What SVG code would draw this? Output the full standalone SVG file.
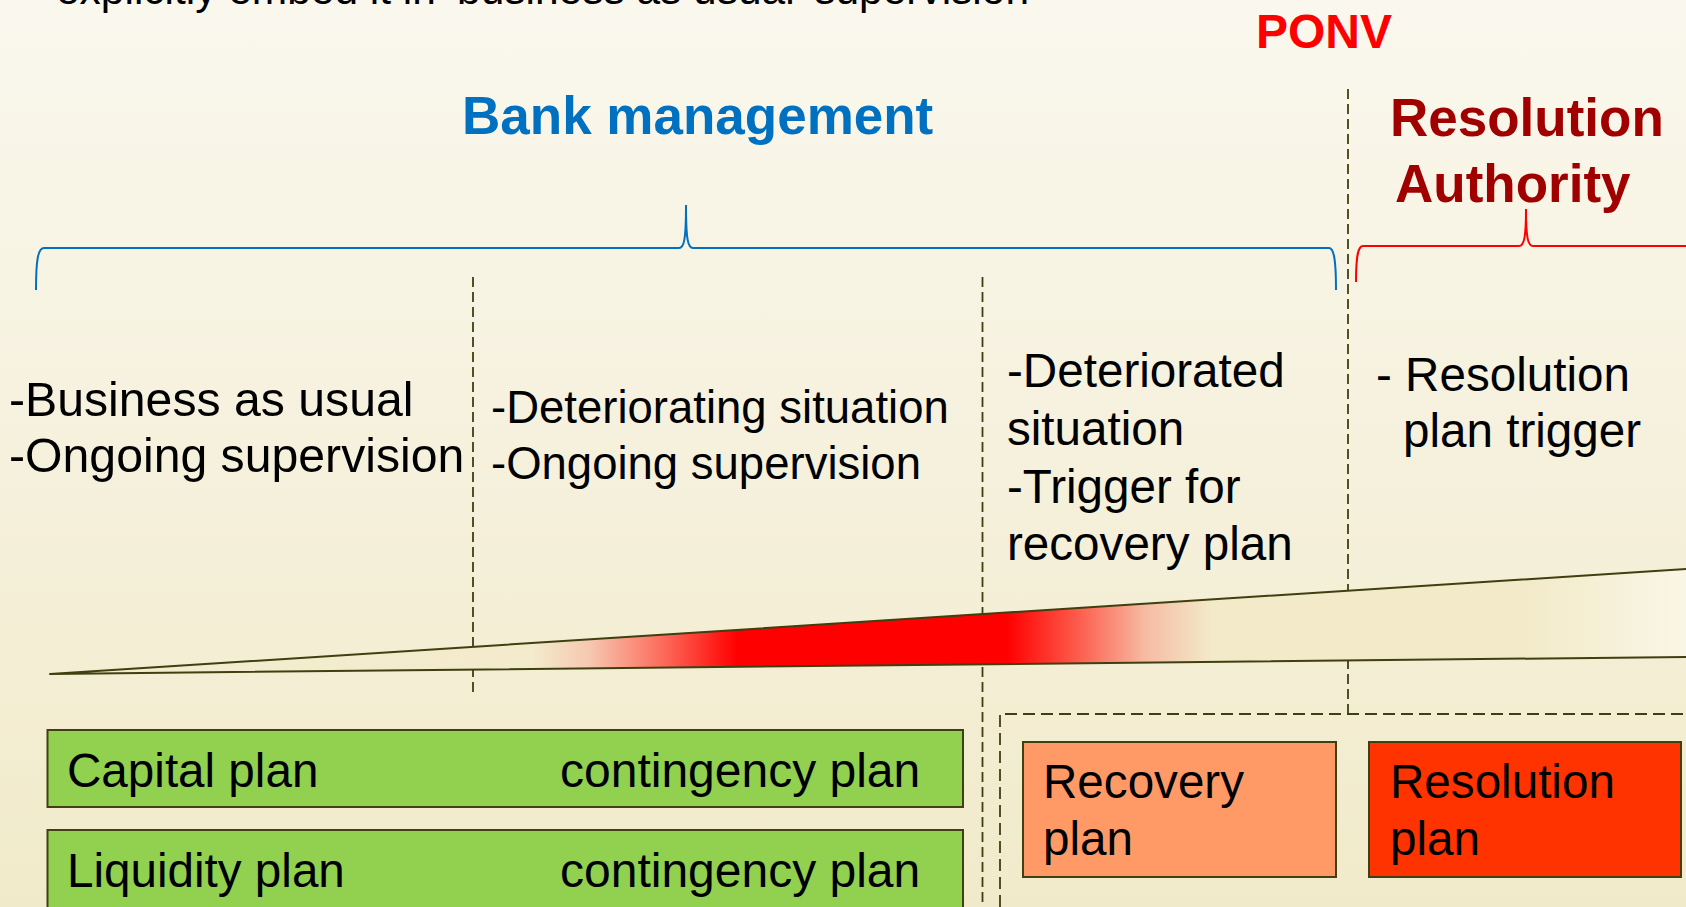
<svg xmlns="http://www.w3.org/2000/svg" width="1686" height="907" viewBox="0 0 1686 907">
<defs>
<linearGradient id="bg" x1="0" y1="0" x2="0" y2="1">
<stop offset="0" stop-color="#FAF8EE"/>
<stop offset="0.5" stop-color="#F6F1DD"/>
<stop offset="1" stop-color="#F1EACA"/>
</linearGradient>
<linearGradient id="wedge" gradientUnits="userSpaceOnUse" x1="50" y1="0" x2="1686" y2="0">
<stop offset="0" stop-color="#F3EDD0"/>
<stop offset="0.295" stop-color="#F3EBCC"/>
<stop offset="0.33" stop-color="#F6C8B0"/>
<stop offset="0.375" stop-color="#FC6A5A"/>
<stop offset="0.42" stop-color="#FF0000"/>
<stop offset="0.585" stop-color="#FF0000"/>
<stop offset="0.63" stop-color="#FC6050"/>
<stop offset="0.67" stop-color="#F6BCA4"/>
<stop offset="0.71" stop-color="#F2EAC8"/>
<stop offset="0.9" stop-color="#F2EAC8"/>
<stop offset="1" stop-color="#FAF6E6"/>
</linearGradient>
</defs>
<style>
.t{font-family:"Liberation Sans",Arial,sans-serif;font-size:47.6px;fill:#000}
.h{font-family:"Liberation Sans",Arial,sans-serif;font-weight:bold}
.dash{fill:none;stroke:#3F3F10;stroke-width:1.8;stroke-dasharray:10 5}
.dash2{fill:none;stroke:#3F3F10;stroke-width:1.8;stroke-dasharray:12 6}
.box{stroke:#404012;stroke-width:2}
</style>
<rect x="0" y="0" width="1686" height="907" fill="url(#bg)"/>

<g id="top-text">
<text class="t" x="56" y="4" style="font-size:42.5px" textLength="973" lengthAdjust="spacingAndGlyphs">explicitly embed it in ‘business as usual’ supervision</text>
</g>

<g id="ponv-label">
<text class="h" x="1256" y="48" font-size="48" fill="#FF0000">PONV</text>
</g>

<g id="bank-management">
<text class="h" x="462" y="134" font-size="53" fill="#0070C0">Bank management</text>
<path d="M36,290 C36,260 38,248 44,248 L679,248 C684,248 686,240 686,205 C686,240 688,248 693,248 L1329,248 C1334,248 1336,260 1336,290" fill="none" stroke="#0070C0" stroke-width="2"/>
</g>

<g id="resolution-authority">
<text class="h" x="1390" y="136" font-size="53" fill="#A00000">Resolution</text>
<text class="h" x="1395" y="202" font-size="53" fill="#A00000">Authority</text>
<path d="M1356,282 C1356,256 1358,246 1363,246 L1519,246 C1524,246 1526,238 1526,209 C1526,238 1528,246 1533,246 L1686,246" fill="none" stroke="#FF0000" stroke-width="2"/>
</g>

<g id="connectors">
<line class="dash" x1="473" y1="277" x2="473" y2="694"/>
<line class="dash" x1="982.5" y1="277" x2="982.5" y2="907"/>
<line class="dash" x1="1348" y1="89" x2="1348" y2="714"/>
<path class="dash2" d="M1000,907 L1000,714 L1690,714"/>
</g>

<g id="wedge-shape">
<polygon points="50,674 1700,568.1 1700,656.8" fill="url(#wedge)" stroke="#3F3F10" stroke-width="2" stroke-linejoin="round"/>
</g>

<g id="col-normal">
<text class="t" x="9" y="416" style="font-size:48.2px">-Business as usual</text>
<text class="t" x="9" y="472" style="font-size:48.2px">-Ongoing supervision</text>
</g>

<g id="col-deteriorating">
<text class="t" x="491" y="423" style="font-size:45.5px">-Deteriorating situation</text>
<text class="t" x="491" y="479" style="font-size:45.5px">-Ongoing supervision</text>
</g>

<g id="col-deteriorated">
<text class="t" x="1007" y="387">-Deteriorated</text>
<text class="t" x="1007" y="445">situation</text>
<text class="t" x="1007" y="503">-Trigger for</text>
<text class="t" x="1007" y="560">recovery plan</text>
</g>

<g id="col-resolution">
<text class="t" x="1376" y="391">- Resolution</text>
<text class="t" x="1403" y="447">plan trigger</text>
</g>

<g id="capital-plan">
<rect class="box" x="47.5" y="730" width="915.5" height="77" fill="#92D050"/>
<text class="t" x="67" y="787">Capital plan</text>
<text class="t" x="560" y="787" style="font-size:48px">contingency plan</text>
</g>

<g id="liquidity-plan">
<rect class="box" x="47.5" y="830" width="915.5" height="90" fill="#92D050"/>
<text class="t" x="67" y="887">Liquidity plan</text>
<text class="t" x="560" y="887" style="font-size:48px">contingency plan</text>
</g>

<g id="recovery-plan">
<rect class="box" x="1023" y="742" width="313" height="135" fill="#FF9966"/>
<text class="t" x="1043" y="798">Recovery</text>
<text class="t" x="1043" y="855">plan</text>
</g>

<g id="resolution-plan">
<rect class="box" x="1369" y="742" width="312" height="135" fill="#FF3300"/>
<text class="t" x="1390" y="798">Resolution</text>
<text class="t" x="1390" y="855">plan</text>
</g>
</svg>
